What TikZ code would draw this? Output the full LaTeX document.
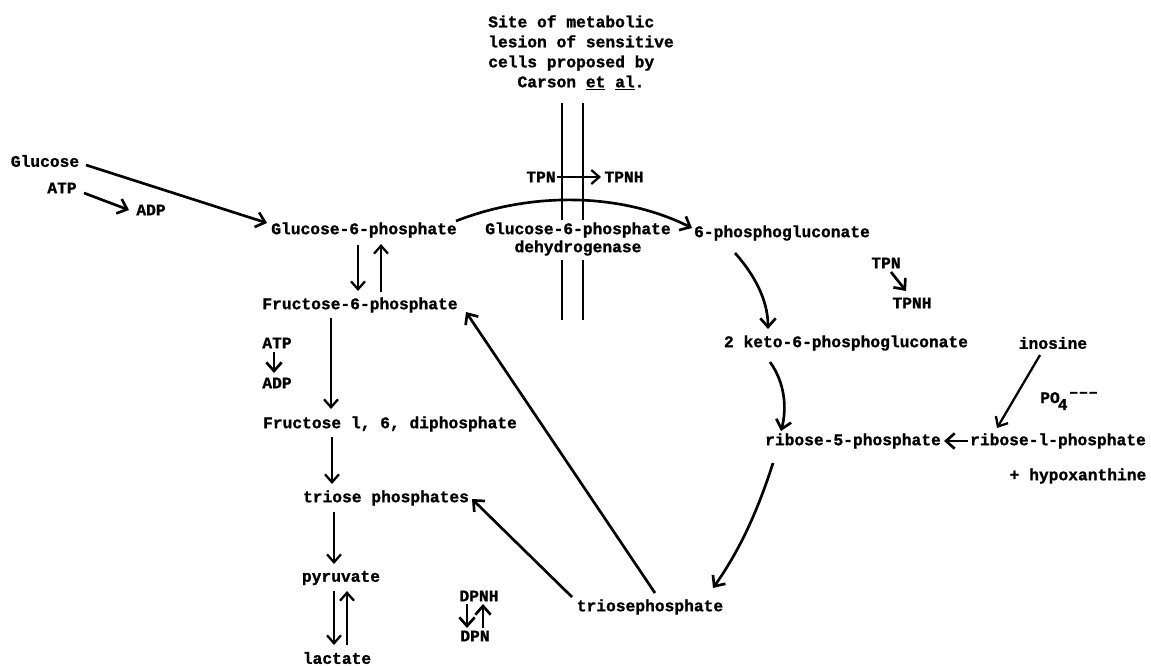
\documentclass[tikz,border=0pt]{standalone}
\usepackage{fontspec}
\setmonofont{Liberation Mono}[BoldFeatures={FakeBold=1.2}]
\usetikzlibrary{arrows.meta,calc}
\begin{document}
\begin{tikzpicture}[x=0.75pt,y=-0.75pt,
  lbl/.style={font=\ttfamily\bfseries\fontsize{12.2}{15}\selectfont, inner sep=0pt},
  arr/.style={line width=1.7pt, -{Straight Barb[length=6pt,width=10.5pt]}},
  bigarr/.style={line width=2pt, -{Straight Barb[length=6.5pt,width=11.5pt]}},
  bar/.style={line width=1.6pt}]
\useasboundingbox (0,0) rectangle (1151,665);
\fill[white] (0,0) rectangle (1151,665);
% nodes
\node[lbl] (glc) at (45,161) {Glucose};
\node[lbl] (atp1) at (62,188) {ATP};
\node[lbl] (adp1) at (151,210) {ADP};
\node[lbl] (g6p) at (364,230) {Glucose-6-phosphate};
\node[lbl] (f6p) at (360,305) {Fructose-6-phosphate};
\node[lbl] (atp2) at (277,343) {ATP};
\node[lbl] (adp2) at (277,383) {ADP};
\node[lbl] (f16) at (390,424) {Fructose l, 6, diphosphate};
\node[lbl] (tri) at (386,498) {triose phosphates};
\node[lbl] (pyr) at (341,578) {pyruvate};
\node[lbl] (lac) at (337,658) {lactate};
\node[lbl] (dpnh) at (479,596) {DPNH};
\node[lbl] (dpn) at (475,636) {DPN};
\node[lbl, align=left, anchor=north west] (site) at (488,15)
  {Site of metabolic\\lesion of sensitive\\cells proposed by\\\hspace*{3\fontcharwd\font`a}Carson \underline{et} \underline{al}.};
\node[lbl] (tpn1) at (541,177) {TPN};
\node[lbl] (tpnh1) at (624,177) {TPNH};
\node[lbl, align=center, font=\ttfamily\bfseries\fontsize{12.2}{13.5}\selectfont] (g6pdh) at (578,239) {Glucose-6-phosphate\\dehydrogenase};
\node[lbl] (pg6) at (782,233) {6-phosphogluconate};
\node[lbl] (tpn2) at (886,263) {TPN};
\node[lbl] (tpnh2) at (912,303) {TPNH};
\node[lbl] (keto) at (846,343) {2 keto-6-phosphogluconate};
\node[lbl] (ino) at (1053,343) {inosine};
\node[lbl, anchor=west] (po4) at (1040,401) {PO\kern-1.5pt\raisebox{-0.8ex}{4}\kern1pt\raisebox{0.7ex}{\textendash\textendash\textendash}};
\node[lbl] (r5p) at (853,441) {ribose-5-phosphate};
\node[lbl] (r1p) at (1058,441) {ribose-l-phosphate};
\node[lbl] (hyp) at (1078,476) {+ hypoxanthine};
\node[lbl] (trip) at (650,607) {triosephosphate};
% double bars (site of lesion)
\draw[bar] (562,103) -- (562,220);
\draw[bar] (583,103) -- (583,220);
\draw[bar] (562,260) -- (562,320);
\draw[bar] (583,260) -- (583,320);
% connectors
\draw[bigarr] ($(glc)+(41,4)$) -- ($(g6p)+(-97,-7)$);
\draw[bigarr] ($(atp1)+(22,5)$) -- ($(adp1)+(-22,0)$);
\draw[arr] ($(g6p)+(-6,15)$) -- ($(f6p)+(-2,-14)$);
\draw[arr] ($(f6p)+(21,-13)$) -- ($(g6p)+(17,14)$);
\draw[bigarr] ($(atp2)+(-3,9)$) -- ($(adp2)+(-3,-10)$);
\draw[arr] ($(f6p)+(-29,13)$) -- ($(f16)+(-59,-15)$);
\draw[arr] ($(f16)+(-58,13)$) -- ($(tri)+(-54,-14)$);
\draw[arr] ($(tri)+(-52,14)$) -- ($(pyr)+(-7,-14)$);
\draw[arr] ($(pyr)+(-7,13)$) -- ($(lac)+(-3,-13)$);
\draw[arr] ($(lac)+(10,-13)$) -- ($(pyr)+(6,13)$);
\draw[bigarr] ($(dpnh)+(-12,8)$) -- ($(dpn)+(-8,-8)$);
\draw[bigarr] ($(dpn)+(8,-8)$) -- ($(dpnh)+(4,8)$);
\draw[bigarr] ($(trip)+(-78,-10)$) -- ($(tri)+(86,1)$);
\draw[bigarr] ($(trip)+(5,-14)$) -- ($(f6p)+(106,7)$);
\draw[bigarr] ($(g6p)+(92,-9)$) .. controls (530,192) and (620,192) .. ($(pg6)+(-90,-5)$);
\draw[arr] ($(tpn1)+(16,0)$) -- ($(tpnh1)+(-23,0)$);
\draw[bigarr] ($(pg6)+(-47,20)$) .. controls (752,272) and (768,298) .. ($(keto)+(-78,-14)$);
\draw[bigarr] ($(tpn2)+(5,9)$) -- ($(tpnh2)+(-6,-12)$);
\draw[bigarr] ($(keto)+(-76,19)$) .. controls (785,383) and (787,408) .. ($(r5p)+(-72,-10)$);
\draw[arr] ($(ino)+(-13,12)$) -- ($(r1p)+(-61,-13)$);
\draw[bigarr] ($(r1p)+(-90,0)$) -- ($(r5p)+(91,0)$);
\draw[bigarr] ($(r5p)+(-80,22)$) .. controls (758,510) and (740,550) .. ($(trip)+(63,-19)$);
\end{tikzpicture}
\end{document}
